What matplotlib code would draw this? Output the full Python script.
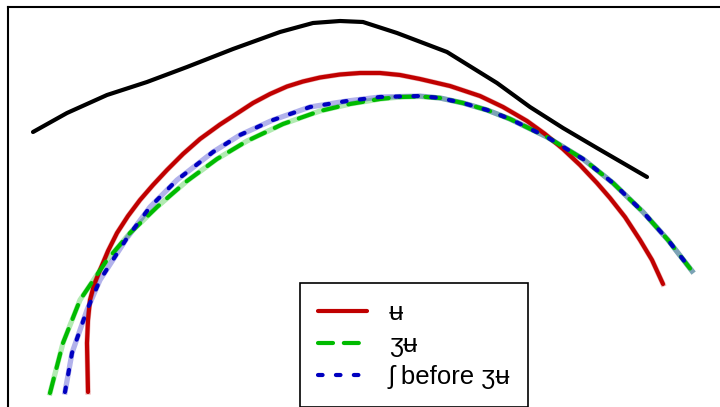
import matplotlib
matplotlib.use("Agg")
import matplotlib.pyplot as plt

plt.rcParams['font.family'] = ['Liberation Sans', 'DejaVu Sans']

H = 407  # values below were read top-down; flipped so y points up

black_x = [33, 67, 107, 147, 187, 233, 280, 313, 340, 363, 397, 447, 497, 530, 563, 597, 647]
black_yd = [132, 113, 95, 82, 67, 49, 32, 23, 21, 22, 33, 52, 83, 107, 128, 148, 177]

u_x = [88, 87, 88, 90, 94, 100, 108, 117, 128, 140, 153, 167, 183, 200, 220, 240, 253,
       270, 287, 303, 320, 340, 360, 380, 400, 420, 450, 480, 503, 527, 545, 563, 580,
       597, 610, 625, 640, 652, 663]
u_yd = [392, 343, 320, 300, 285, 270, 251, 233, 216, 200, 185, 170, 154, 139, 124.5, 111.5, 103,
        94, 86.5, 81.5, 77.5, 74.5, 73, 73, 75, 79, 86, 96, 107, 121, 134, 149, 165,
        183, 198, 217, 240, 260, 284]

zu_x = [50, 63, 80, 107, 130, 157, 187, 217, 247, 283, 320, 350, 380, 400, 420, 440, 463,
        487, 510, 547, 583, 613, 643, 668, 692]
zu_yd = [393, 343, 300, 260, 233, 207, 181, 159, 141, 124, 111, 104, 99, 97, 96.5, 98, 103,
         110, 119, 137, 159, 183, 212, 240, 271]

sh_x = [65, 72, 87, 100, 127, 150, 177, 213, 240, 273, 310, 347, 380, 400, 420, 440, 463,
        487, 510, 547, 583, 613, 643, 668, 692]
sh_yd = [392, 353, 310, 280, 238, 207, 180, 152, 135, 120, 107, 101, 97, 96.5, 96, 98, 103,
         110, 119, 137, 159, 183, 212, 240, 271]

labels = ['ʉ', 'ʒʉ', 'ʃ before ʒʉ']
red = '#c00000'
green = '#00bb00'
blue = '#0000c0'

black_y = [H - v for v in black_yd]
u_y = [H - v for v in u_yd]
zu_y = [H - v for v in zu_yd]
sh_y = [H - v for v in sh_yd]

fig = plt.figure(figsize=(7.2, 4.07), dpi=100)
ax = fig.add_axes([8 / 720, -20 / 407, 1.05, 1 + 13 / 407])

ax.plot(black_x, black_y, color='black', lw=3, solid_capstyle='round',
        solid_joinstyle='round')

# light bands under each line
ax.plot(u_x, u_y, color=red, lw=3.8, alpha=0.3)
ax.plot(zu_x, zu_y, color=green, lw=3.8, alpha=0.3)
ax.plot(sh_x, sh_y, color=blue, lw=3.8, alpha=0.3)

l1, = ax.plot(u_x, u_y, color=red, lw=3, solid_capstyle='round',
              solid_joinstyle='round', label=labels[0])
l2, = ax.plot(zu_x, zu_y, color=green, lw=3, dashes=(3.6, 2.6),
              dash_capstyle='round', label=labels[1])
l3, = ax.plot(sh_x, sh_y, color=blue, lw=3, dashes=(1.1, 3.2),
              dash_capstyle='round', label=labels[2])

ax.set_xlim(8, 764)
ax.set_ylim(-20, 400)
ax.set_xticks([])
ax.set_yticks([])
for s in ax.spines.values():
    s.set_linewidth(1.5)

leg = fig.legend(handles=[l1, l2, l3], loc='upper left',
                 bbox_to_anchor=(300 / 720, 1 - 283 / 407),
                 fontsize=18.5, fancybox=False, framealpha=1,
                 edgecolor='black', labelspacing=0.32, borderpad=0.7,
                 handlelength=1.9, handletextpad=0.85, borderaxespad=0)
leg.get_frame().set_linewidth(1.2)

fig.savefig('out.png', dpi=100)
